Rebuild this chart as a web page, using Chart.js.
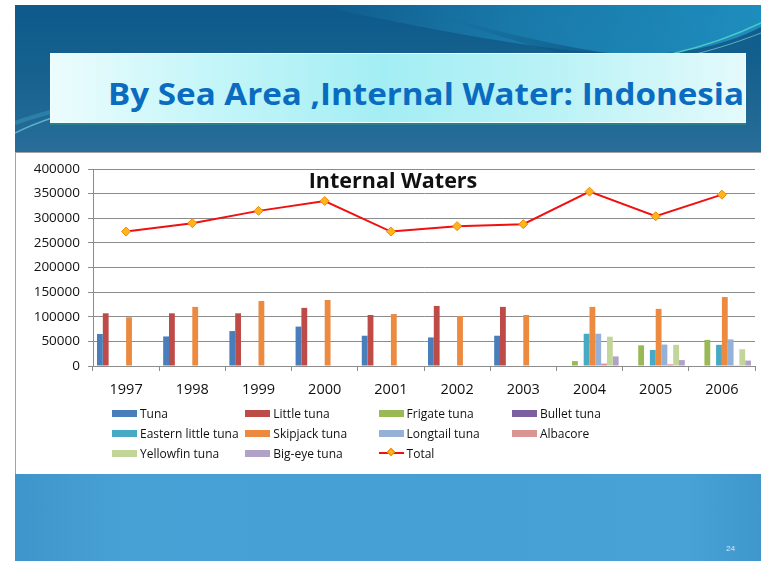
<!DOCTYPE html>
<html>
<head>
<meta charset="utf-8">
<script src="https://cdn.jsdelivr.net/npm/chart.js@4/dist/chart.umd.min.js"></script>
<style>
  html, body { margin: 0; padding: 0; background: #fff; }
  body { width: 761px; height: 561px; position: relative; overflow: hidden; font-family: "Open Sans", sans-serif; }
  #band { position: absolute; left: 15px; top: 5px; }
  #footer { position: absolute; left: 15px; top: 474px; width: 746px; height: 87px;
    background: linear-gradient(90deg, #3e95cb 0%, #48a1d5 15%, #46a0d5 60%, #48a2d6 90%, #3f97cc 100%); }
  #titlebox { position: absolute; left: 50px; top: 53px; width: 694px; height: 68px;
    background: linear-gradient(90deg, #ecfcfd 0%, #c6f6f9 22%, #a3eef4 48%, #b9f2f6 72%, #e4fafb 100%);
    border: 1px solid #f2ffff; box-shadow: 0 2px 0 #2a7f8e; }
  #title { position: absolute; left: 108px; top: 78px; font: bold 31px "Open Sans", sans-serif; color: #0a6cc0;
    white-space: nowrap; line-height: 31px; transform-origin: 0 50%; }
  #chartbox { position: absolute; left: 15px; top: 152px; width: 760px; height: 323px; box-sizing: border-box;
    border: 1px solid #a3a3a3; background: #fff; }
  #chart { position: absolute; left: 15px; top: 152px; }
  #legend { position: absolute; left: 112px; top: 403px; display: grid;
    grid-template-columns: repeat(4, 133.3px); grid-auto-rows: 20.2px; }
  .item { display: flex; align-items: center; font: 12px "Open Sans", sans-serif; color: #111; white-space: nowrap; }
  .sw { width: 25px; height: 7px; margin-right: 3px; flex: none; position: relative; }
  .sw.line { height: 2px; }
  .sw.line i { position: absolute; left: 9px; top: -3.5px; width: 6px; height: 6px; transform: rotate(45deg);
    background: #ffb41e; border: 1px solid #f08a00; box-sizing: border-box; }
  #pg { position: absolute; left: 726px; top: 544px; font: 8px "Liberation Sans", sans-serif; color: #d4eaf7; }
</style>
</head>
<body>
<svg id="band" width="746" height="148" viewBox="0 0 746 148">
  <defs>
    <linearGradient id="bg" x1="0" y1="0" x2="0" y2="1">
      <stop offset="0" stop-color="#0d5a8b"/>
      <stop offset="0.5" stop-color="#17628f"/>
      <stop offset="1" stop-color="#2a6e9a"/>
    </linearGradient>
    <linearGradient id="sw1" x1="0" y1="0" x2="1" y2="0">
      <stop offset="0" stop-color="#1e86b6" stop-opacity="0"/>
      <stop offset="0.45" stop-color="#1c83b3" stop-opacity="0.75"/>
      <stop offset="1" stop-color="#1f93c4" stop-opacity="0.9"/>
    </linearGradient>
    <linearGradient id="sw2" x1="0" y1="0" x2="1" y2="0">
      <stop offset="0" stop-color="#0f5a88" stop-opacity="0"/>
      <stop offset="0.5" stop-color="#0e5686" stop-opacity="0.8"/>
      <stop offset="1" stop-color="#0f5f90" stop-opacity="0.3"/>
    </linearGradient>
  </defs>
  <rect width="746" height="148" fill="url(#bg)"/>
  <path d="M300 0 C 420 25, 560 55, 650 48 C 700 44, 730 30, 746 22 L746 0 Z" fill="url(#sw1)"/>
  <path d="M420 10 C 500 30, 580 52, 650 52 C 690 52, 720 44, 746 36 L746 60 C 700 70, 640 68, 560 52 C 510 40, 460 24, 420 10 Z" fill="url(#sw2)"/>
  <path d="M560 62 C 640 58, 700 40, 746 18" stroke="#58d9c8" stroke-width="1.5" fill="none" opacity="0.8"/>
  <path d="M590 64 C 660 58, 710 42, 746 28" stroke="#8fe6f0" stroke-width="1" fill="none" opacity="0.6"/>
  <path d="M0 128 C 40 108, 120 86, 260 70" stroke="#6fd0e0" stroke-width="1.5" fill="none" opacity="0.7"/>
  <path d="M0 118 C 50 100, 130 84, 260 68" stroke="#3fb0cf" stroke-width="4" fill="none" opacity="0.35"/>
</svg>
<div id="titlebox"></div>
<div id="title">By Sea Area ,Internal Water: Indonesia</div>
<div id="chartbox"></div>
<canvas id="chart" width="746" height="322"></canvas>
<div id="legend"></div>
<div id="footer"></div>
<div id="pg">24</div>
<script>
// Catch by species in internal waters, tonnes per year
const years = ['1997', '1998', '1999', '2000', '2001', '2002', '2003', '2004', '2005', '2006'];
const tuna              = [65000, 60000, 71000, 80000, 61500, 58000, 61500, null, null, null];
const littleTuna        = [107000, 107000, 107000, 118000, 103500, 122000, 120000, null, null, null];
const frigateTuna       = [null, null, null, null, null, null, null, 10000, 42000, 53000];
const bulletTuna        = [null, null, null, null, null, null, null, null, null, null];
const easternLittleTuna = [null, null, null, null, null, null, null, 65500, 32500, 43000];
const skipjackTuna      = [99000, 120000, 132000, 134000, 105500, 101500, 103500, 120000, 116000, 140000];
const longtailTuna      = [null, null, null, null, null, null, null, 65500, 43500, 54000];
const albacore          = [null, null, null, null, null, null, null, 5000, 3500, 1500];
const yellowfinTuna     = [null, null, null, null, null, null, null, 59500, 43000, 34000];
const bigeyeTuna        = [null, null, null, null, null, null, null, 19500, 12000, 11000];
const total             = [273000, 290000, 315000, 335000, 273000, 284000, 288000, 354000, 304000, 348000];
const yTicks = [0, 50000, 100000, 150000, 200000, 250000, 300000, 350000, 400000];

// Fit the slide heading to its box width
const t = document.getElementById('title');
t.style.transform = 'scaleX(' + (636 / t.getBoundingClientRect().width) + ')';

function bar(label, data, color) {
  return { type: 'bar', label, data, backgroundColor: color, borderWidth: 0, order: 2,
           categoryPercentage: 0.88, barPercentage: 1.0 };
}

const chartTitle = {
  id: 'chartTitle',
  afterDraw(chart) {
    const c = chart.ctx;
    c.save();
    c.font = 'bold 21.5px "Open Sans", sans-serif';
    c.fillStyle = '#111';
    c.textAlign = 'center';
    c.textBaseline = 'alphabetic';
    c.fillText('Internal Waters', 378, 36);
    c.restore();
  }
};

const chart = new Chart(document.getElementById('chart'), {
  data: {
    labels: years,
    datasets: [
      bar('Tuna', tuna, '#4a7ebb'),
      bar('Little tuna', littleTuna, '#be4b48'),
      bar('Frigate tuna', frigateTuna, '#98b954'),
      bar('Bullet tuna', bulletTuna, '#7d60a0'),
      bar('Eastern little tuna', easternLittleTuna, '#46aac5'),
      bar('Skipjack tuna', skipjackTuna, '#ec8a40'),
      bar('Longtail tuna', longtailTuna, '#95b1d8'),
      bar('Albacore', albacore, '#d99594'),
      bar('Yellowfin tuna', yellowfinTuna, '#c2d69a'),
      bar('Big-eye tuna', bigeyeTuna, '#b2a1c7'),
      { type: 'line', label: 'Total', data: total, order: 1,
        borderColor: '#f01010', borderWidth: 2, tension: 0,
        pointStyle: 'rectRot', pointRadius: 4.5, pointBorderWidth: 1,
        pointBackgroundColor: '#ffb41e', pointBorderColor: '#f08a00' }
    ]
  },
  options: {
    responsive: false,
    animation: false,
    devicePixelRatio: 1,
    layout: { padding: { top: 17, right: 6, bottom: 78, left: 0 } },
    plugins: { legend: { display: false }, tooltip: { enabled: false } },
    scales: {
      x: {
        offset: true,
        grid: { offset: true, drawOnChartArea: false, drawTicks: true, tickLength: 5, color: '#8c8c8c' },
        border: { color: '#8c8c8c' },
        ticks: { font: { family: 'Open Sans', size: 14.5 }, color: '#111', padding: 10, maxRotation: 0 },
        afterFit(s) { s.height = 30; }
      },
      y: {
        min: 0, max: 400000,
        afterBuildTicks(s) { s.ticks = yTicks.map(v => ({ value: v })); },
        ticks: { font: { family: 'Open Sans', size: 13.5 }, color: '#111', padding: 8, callback: v => String(v) },
        grid: { color: '#8c8c8c', tickLength: 5 },
        border: { color: '#8c8c8c' },
        afterFit(s) { s.width = 78; }
      }
    }
  },
  plugins: [chartTitle]
});

// Legend laid out as a 4-column grid from the chart's own datasets
const legend = document.getElementById('legend');
chart.data.datasets.forEach(ds => {
  const item = document.createElement('div');
  item.className = 'item';
  const sw = document.createElement('span');
  if (ds.type === 'line') {
    sw.className = 'sw line';
    sw.style.background = ds.borderColor;
    sw.appendChild(document.createElement('i'));
  } else {
    sw.className = 'sw';
    sw.style.background = ds.backgroundColor;
  }
  item.appendChild(sw);
  item.appendChild(document.createTextNode(ds.label));
  legend.appendChild(item);
});
</script>
</body>
</html>
